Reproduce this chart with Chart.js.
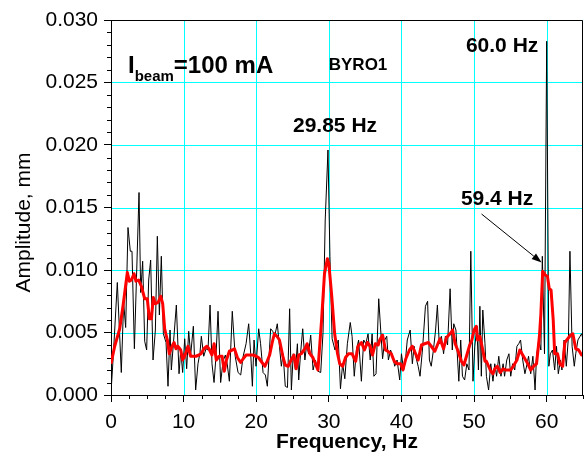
<!DOCTYPE html>
<html>
<head>
<meta charset="utf-8">
<script src="https://cdn.jsdelivr.net/npm/chart.js@4.4.1/dist/chart.umd.min.js"></script>
<style>
html,body{margin:0;padding:0;background:#fff;}
canvas{display:block;}
</style>
</head>
<body>
<canvas id="c" width="584" height="467"></canvas>
<script>
// ---- raw spectrum (black) ----
const blackFreq = [0.0,0.3,0.87,1.42,1.74,2.02,2.34,2.66,2.89,3.22,3.86,4.09,4.36,4.64,4.91,5.19,5.46,5.79,6.11,6.38,6.66,6.93,7.21,7.58,7.85,8.13,8.31,8.59,9.0,9.37,9.6,9.87,10.15,10.42,10.7,10.97,11.34,11.66,11.98,12.26,12.44,12.77,13.09,13.36,13.64,13.91,14.19,14.46,14.74,15.1,15.43,15.75,16.0,16.3,16.7,17.1,17.5,17.86,18.2,18.6,18.96,19.24,19.47,19.7,19.97,20.34,20.6,20.94,21.26,21.53,21.99,22.27,22.54,22.9,23.2,23.46,23.7,24.0,24.3,24.6,24.84,25.1,25.4,25.67,25.85,26.1,26.4,26.7,26.96,27.2,27.5,27.83,28.15,28.5,28.88,29.2,29.5,29.88,30.15,30.45,30.85,31.3,31.6,31.9,32.2,32.55,32.95,33.2,33.5,33.8,34.1,34.48,34.8,35.1,35.4,35.7,35.96,36.2,36.5,36.87,37.14,37.4,37.7,37.97,38.2,38.5,38.8,39.07,39.4,39.76,40.0,40.3,40.55,40.8,41.2,41.5,41.74,42.0,42.3,42.56,42.93,43.3,43.6,43.85,44.1,44.4,44.7,44.95,45.2,45.5,45.8,46.05,46.35,46.7,47.0,47.2,47.5,47.9,48.16,48.4,48.7,49.0,49.3,49.55,49.85,50.1,50.4,50.6,50.8,51.0,51.2,51.5,51.7,52.0,52.3,52.6,52.85,53.1,53.4,53.7,54.0,54.2,54.5,54.8,55.05,55.3,55.6,55.9,56.15,56.4,56.7,57.0,57.3,57.5,57.8,58.1,58.4,58.6,58.9,59.2,59.4,59.7,60.0,60.3,60.5,60.8,61.1,61.35,61.6,61.9,62.1,62.4,62.7,63.0,63.2,63.5,63.8,64.0,64.3,64.6,64.8,65.0];
const blackAmp = [0.0002,0.0030,0.0090,0.0018,0.0074,0.0054,0.0134,0.0115,0.0115,0.0037,0.0162,0.0082,0.0107,0.0043,0.0036,0.0092,0.0108,0.0028,0.0052,0.0127,0.0064,0.0111,0.0049,0.0042,0.0007,0.0052,0.0020,0.0041,0.0072,0.0017,0.0036,0.0018,0.0045,0.0021,0.0051,0.0032,0.0055,0.0004,0.0025,0.0034,0.0047,0.0031,0.0037,0.0036,0.0072,0.0025,0.0010,0.0031,0.0067,0.0010,0.0027,0.0032,0.0025,0.0011,0.0067,0.0031,0.0018,0.0016,0.0031,0.0041,0.0057,0.0033,0.0007,0.0044,0.0023,0.0053,0.0041,0.0018,0.0016,0.0007,0.0053,0.0051,0.0047,0.0057,0.0039,0.0023,0.0033,0.0007,0.0006,0.0069,0.0004,0.0033,0.0020,0.0041,0.0012,0.0033,0.0053,0.0028,0.0041,0.0033,0.0048,0.0020,0.0028,0.0019,0.0018,0.0050,0.0140,0.0196,0.0111,0.0045,0.0036,0.0044,0.0005,0.0025,0.0013,0.0041,0.0058,0.0047,0.0015,0.0036,0.0044,0.0011,0.0044,0.0041,0.0049,0.0028,0.0049,0.0015,0.0017,0.0077,0.0052,0.0029,0.0044,0.0047,0.0028,0.0036,0.0031,0.0023,0.0028,0.0012,0.0033,0.0020,0.0028,0.0044,0.0052,0.0025,0.0039,0.0030,0.0023,0.0015,0.0039,0.0071,0.0075,0.0028,0.0023,0.0036,0.0052,0.0072,0.0041,0.0047,0.0033,0.0047,0.0040,0.0085,0.0036,0.0057,0.0052,0.0011,0.0044,0.0015,0.0012,0.0025,0.0020,0.0115,0.0011,0.0039,0.0055,0.0020,0.0071,0.0015,0.0068,0.0041,0.0015,0.0004,0.0025,0.0011,0.0025,0.0015,0.0031,0.0015,0.0025,0.0015,0.0028,0.0033,0.0015,0.0025,0.0020,0.0039,0.0041,0.0044,0.0028,0.0017,0.0025,0.0031,0.0017,0.0031,0.0004,0.0031,0.0044,0.0036,0.0111,0.0033,0.0283,0.0023,0.0033,0.0036,0.0020,0.0039,0.0017,0.0028,0.0020,0.0044,0.0023,0.0047,0.0115,0.0039,0.0023,0.0033,0.0044,0.0047,0.0049,0.0045];

// ---- smoothed spectrum (red) ----
const redFreq = [0.0,0.51,1.2,1.65,2.25,2.53,2.8,3.17,3.44,3.8,4.18,4.64,5.0,5.28,5.56,5.83,6.11,6.47,6.84,7.12,7.39,7.76,8.03,8.4,8.68,8.95,9.2,9.6,9.87,10.2,10.6,10.97,11.3,11.7,12.1,12.4,12.8,13.2,13.5,13.9,14.2,14.5,14.9,15.3,15.6,15.9,16.3,16.7,17.0,17.4,17.86,18.2,18.6,19.1,19.55,20.0,20.3,20.8,21.2,21.5,21.85,22.2,22.5,22.85,23.2,23.7,24.0,24.4,24.8,25.2,25.5,25.85,26.2,26.7,27.0,27.4,27.8,28.15,28.5,29.0,29.4,29.8,30.0,30.4,30.8,31.2,31.5,31.9,32.3,32.7,33.2,33.7,34.0,34.5,34.9,35.3,35.7,36.0,36.4,36.8,37.0,37.4,37.8,38.1,38.6,39.0,39.4,39.9,40.2,40.6,41.1,41.5,41.8,42.3,42.75,43.2,43.7,44.1,44.6,44.95,45.3,45.8,46.2,46.7,47.05,47.4,47.8,48.25,48.6,49.0,49.4,49.7,50.0,50.3,50.5,50.8,51.2,51.5,51.7,52.0,52.3,52.6,52.85,53.2,53.6,54.0,54.3,54.7,55.05,55.4,55.9,56.3,56.7,57.1,57.4,57.8,58.2,58.6,59.0,59.2,59.45,59.8,60.1,60.35,60.6,60.9,61.1,61.5,61.8,62.2,62.5,62.9,63.3,63.6,64.0,64.4,64.8,65.0];
const redAmp = [0.0025,0.0039,0.0053,0.0071,0.0098,0.0091,0.0092,0.0097,0.0091,0.0092,0.0087,0.0077,0.0077,0.0061,0.0061,0.0078,0.0073,0.0074,0.0079,0.0073,0.0053,0.0044,0.0033,0.0039,0.0042,0.0037,0.0039,0.0036,0.0028,0.0032,0.0039,0.0031,0.0031,0.0031,0.0032,0.0033,0.0037,0.0039,0.0037,0.0032,0.0041,0.0028,0.0031,0.0031,0.0019,0.0028,0.0035,0.0036,0.0037,0.0030,0.0026,0.0029,0.0032,0.0032,0.0032,0.0031,0.0030,0.0026,0.0023,0.0027,0.0032,0.0042,0.0049,0.0047,0.0044,0.0030,0.0024,0.0023,0.0028,0.0032,0.0021,0.0032,0.0033,0.0037,0.0041,0.0033,0.0030,0.0025,0.0020,0.0060,0.0097,0.0109,0.0105,0.0079,0.0049,0.0033,0.0025,0.0023,0.0030,0.0033,0.0033,0.0027,0.0039,0.0042,0.0036,0.0042,0.0039,0.0032,0.0041,0.0040,0.0044,0.0048,0.0036,0.0035,0.0033,0.0027,0.0025,0.0025,0.0020,0.0029,0.0036,0.0039,0.0035,0.0028,0.0040,0.0041,0.0042,0.0039,0.0035,0.0040,0.0045,0.0037,0.0046,0.0049,0.0052,0.0041,0.0035,0.0027,0.0024,0.0032,0.0040,0.0044,0.0052,0.0055,0.0044,0.0047,0.0036,0.0027,0.0027,0.0023,0.0019,0.0017,0.0021,0.0023,0.0018,0.0021,0.0020,0.0020,0.0020,0.0023,0.0028,0.0036,0.0032,0.0028,0.0025,0.0020,0.0023,0.0025,0.0047,0.0065,0.0099,0.0096,0.0095,0.0085,0.0084,0.0060,0.0033,0.0033,0.0025,0.0023,0.0042,0.0045,0.0048,0.0049,0.0037,0.0036,0.0032,0.0033];

// ---- axes ----
const xRange = [0, 65];
const yRange = [0, 0.030];
const xMajorStep = 10, xMinorStep = 2.5;
const yMajorStep = 0.005, yMinorStep = 0.001;
const xTitle = 'Frequency, Hz';
const yTitle = 'Amplitude, mm';

// ---- annotations (text, anchor in data units) ----
const peakLabels = [
  {text:'29.85 Hz', x:30.85, y:0.02152},
  {text:'60.0 Hz',  x:53.86, y:0.02792},
  {text:'59.4 Hz',  x:53.17, y:0.01568},
  {text:'BYRO1',    x:34.02, y:0.0264, size:17}
];
const beamLabel = {main:'I', sub:'beam', rest:'=100 mA', x:2.34, y:0.02576};
const arrowFrom = {x:51.03, y:0.01448};
const arrowTo   = {x:59.30, y:0.0106};

const FONT = "'Liberation Sans', Arial, Helvetica, sans-serif";
const GRID = '#00ffff';

const toPts = (xs, ys) => xs.map((f, i) => ({x: f, y: ys[i]}));

const gridPlugin = {
  id: 'cyanGrid',
  beforeDatasetsDraw(chart) {
    const {ctx, scales: {x, y}, chartArea: a} = chart;
    ctx.save();
    ctx.strokeStyle = GRID;
    ctx.lineWidth = 1;
    ctx.beginPath();
    x.ticks.forEach(t => {
      if (t.value <= xRange[0]) return;
      const px = Math.round(x.getPixelForValue(t.value)) + 0.5;
      ctx.moveTo(px, a.top); ctx.lineTo(px, a.bottom);
    });
    y.ticks.forEach(t => {
      if (t.value <= yRange[0]) return;
      const py = Math.round(y.getPixelForValue(t.value)) + 0.5;
      ctx.moveTo(a.left + 1, py); ctx.lineTo(a.right, py);
    });
    ctx.stroke();
    ctx.restore();
  }
};

const axisExtrasPlugin = {
  id: 'axisExtras',
  afterDraw(chart) {
    const {ctx, scales: {x, y}, chartArea: a} = chart;
    ctx.save();
    ctx.strokeStyle = '#000';
    ctx.lineWidth = 1;
    ctx.beginPath();
    const nx = Math.round((xRange[1] - xRange[0]) / xMinorStep);
    for (let k = 0; k <= nx; k++) {
      if (k % Math.round(xMajorStep / xMinorStep) === 0) continue;
      const px = Math.round(x.getPixelForValue(xRange[0] + k * xMinorStep)) + 0.5;
      ctx.moveTo(px, a.bottom);
      ctx.lineTo(px, a.bottom + 4);
    }
    const ny = Math.round((yRange[1] - yRange[0]) / yMinorStep);
    for (let k = 0; k <= ny; k++) {
      if (k % Math.round(yMajorStep / yMinorStep) === 0) continue;
      const py = Math.round(y.getPixelForValue(yRange[0] + k * yMinorStep)) + 0.5;
      ctx.moveTo(a.left, py);
      ctx.lineTo(a.left - 4, py);
    }
    ctx.stroke();
    // frame: top and right sides
    ctx.beginPath();
    const t = Math.round(a.top) + 0.5, r = Math.round(a.right) - 0.5;
    ctx.moveTo(a.left, t); ctx.lineTo(r, t); ctx.lineTo(r, a.bottom);
    ctx.stroke();
    // y axis title
    ctx.fillStyle = '#000';
    ctx.font = `21px ${FONT}`;
    ctx.textAlign = 'center';
    ctx.textBaseline = 'middle';
    ctx.translate(24, (a.top + a.bottom) / 2 + 15);
    ctx.rotate(-Math.PI / 2);
    ctx.fillText(yTitle, 0, 0);
    ctx.restore();
  }
};

const notesPlugin = {
  id: 'notes',
  afterDatasetsDraw(chart) {
    const {ctx, scales: {x, y}} = chart;
    ctx.save();
    ctx.fillStyle = '#000';
    ctx.textAlign = 'center';
    ctx.textBaseline = 'middle';
    peakLabels.forEach(l => {
      ctx.font = `bold ${l.size || 21}px ${FONT}`;
      ctx.fillText(l.text, x.getPixelForValue(l.x), y.getPixelForValue(l.y));
    });
    // I_beam = 100 mA
    ctx.textAlign = 'left';
    ctx.textBaseline = 'alphabetic';
    let px = x.getPixelForValue(beamLabel.x);
    const py = y.getPixelForValue(beamLabel.y);
    ctx.font = `bold 24px ${FONT}`;
    ctx.fillText(beamLabel.main, px, py);
    px += ctx.measureText(beamLabel.main).width;
    ctx.font = `bold 15px ${FONT}`;
    ctx.fillText(beamLabel.sub, px, py + 8);
    px += ctx.measureText(beamLabel.sub).width;
    ctx.font = `bold 24px ${FONT}`;
    ctx.fillText(beamLabel.rest, px, py);
    // arrow
    const x0 = x.getPixelForValue(arrowFrom.x), y0 = y.getPixelForValue(arrowFrom.y);
    const x1 = x.getPixelForValue(arrowTo.x), y1 = y.getPixelForValue(arrowTo.y);
    const ang = Math.atan2(y1 - y0, x1 - x0);
    const hl = 10, hw = 3.5;
    const bx = x1 - hl * Math.cos(ang), by = y1 - hl * Math.sin(ang);
    ctx.strokeStyle = '#000';
    ctx.lineWidth = 1;
    ctx.beginPath();
    ctx.moveTo(x0, y0); ctx.lineTo(bx, by);
    ctx.stroke();
    ctx.beginPath();
    ctx.moveTo(x1, y1);
    ctx.lineTo(bx + hw * Math.sin(ang), by - hw * Math.cos(ang));
    ctx.lineTo(bx - hw * Math.sin(ang), by + hw * Math.cos(ang));
    ctx.closePath();
    ctx.fill();
    ctx.restore();
  }
};

new Chart(document.getElementById('c'), {
  type: 'scatter',
  data: {
    datasets: [
      {label: 'Smoothed', data: toPts(redFreq, redAmp), showLine: true, borderColor: '#ff0000', borderWidth: 3, pointRadius: 0, borderJoinStyle: 'round', order: 0},
      {label: 'Spectrum', data: toPts(blackFreq, blackAmp), showLine: true, borderColor: '#000000', borderWidth: 1, pointRadius: 0, order: 1}
    ]
  },
  options: {
    responsive: false,
    animation: false,
    devicePixelRatio: 1,
    layout: {padding: {top: 20, right: 1, left: 0, bottom: 0}},
    plugins: {legend: {display: false}, tooltip: {enabled: false}},
    scales: {
      x: {
        type: 'linear', min: xRange[0], max: xRange[1],
        afterFit(s) { s.height = 72; },
        ticks: {stepSize: xMajorStep, includeBounds: false, autoSkip: false, maxRotation: 0, padding: 8, color: '#000', font: {family: FONT, size: 21}, callback: v => String(v)},
        grid: {display: true, drawOnChartArea: false, offset: false, color: GRID, tickColor: '#000', tickLength: 7},
        border: {color: '#000', width: 1},
        title: {display: true, text: xTitle, color: '#000', font: {family: FONT, size: 21, weight: 'bold'}, padding: {top: 0, bottom: 12}}
      },
      y: {
        type: 'linear', min: yRange[0], max: yRange[1],
        afterFit(s) { s.width = 111; },
        ticks: {stepSize: yMajorStep, includeBounds: false, autoSkip: false, padding: 6, color: '#000', font: {family: FONT, size: 21}, callback: v => v.toFixed(3)},
        grid: {display: true, drawOnChartArea: false, offset: false, color: GRID, tickColor: '#000', tickLength: 7},
        border: {color: '#000', width: 1},
        title: {display: false}
      }
    }
  },
  plugins: [gridPlugin, axisExtrasPlugin, notesPlugin]
});
</script>
</body>
</html>
